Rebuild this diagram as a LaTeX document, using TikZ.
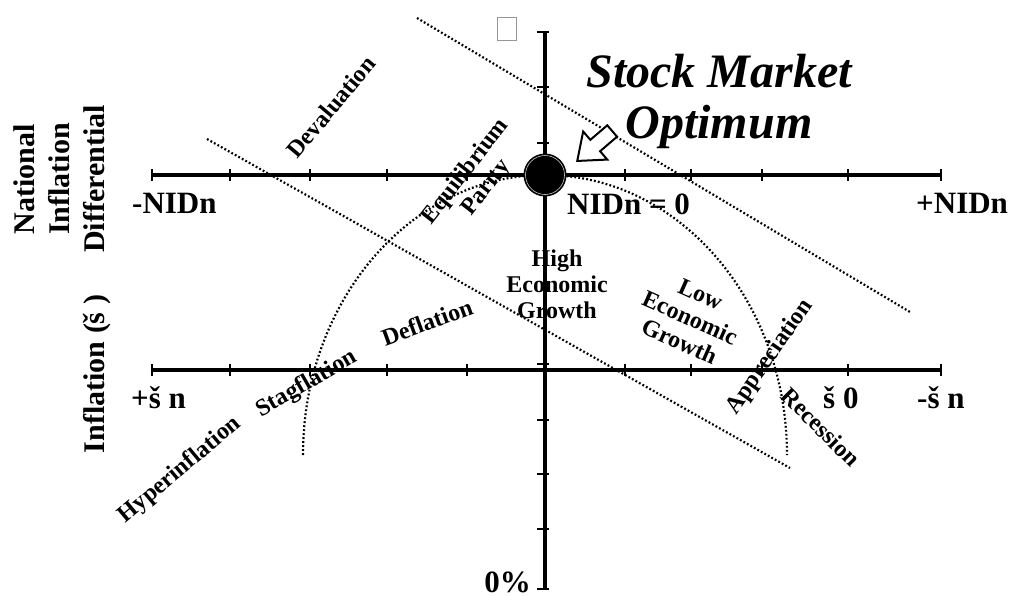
\documentclass[tikz,border=0pt]{standalone}
\usepackage{fontspec}
\setmainfont{Liberation Serif}
\usetikzlibrary{shapes.arrows}
\definecolor{glyphGray}{RGB}{150,150,150}
\definecolor{ringGray}{RGB}{200,200,200}
\tikzset{
  axisline/.style={line width=3.4pt},
  tickmark/.style={line width=2.6pt},
  dotline/.style={line width=2.2pt,dash pattern=on 1.8pt off 2.2pt},
  lbl/.style={font=\bfseries\fontsize{24}{26}\selectfont,align=center,inner sep=0pt},
  axislbl/.style={font=\bfseries\fontsize{31}{35}\selectfont,inner sep=0pt},
}

\begin{document}
\begin{tikzpicture}[x=1pt,y=-1pt]
\useasboundingbox (0,0) rectangle (1031,597);
\coordinate (nidW) at (152,175);
\coordinate (nidE) at (941,175);
\coordinate (infW) at (152,370);
\coordinate (infE) at (941,370);
\coordinate (vTop) at (545,32);
\coordinate (vBot) at (545,589);
\coordinate (parA1) at (417,18);
\coordinate (parA2) at (910,312);
\coordinate (parB1) at (207,139);
\coordinate (parB2) at (790,468);
\coordinate (arcW) at (303,455);

\draw[dotline] (parA1) -- (parA2);
\draw[dotline] (parB1) -- (parB2);
\draw[dotline] (arcW) arc[start angle=180,end angle=360,x radius=242,y radius=280];

\draw[axisline] (nidW) -- (nidE);
\draw[axisline] (infW) -- (infE);
\draw[axisline] (vTop) -- (vBot);
\foreach \tx in {152,230,310,387,467,625,691,762,848,941}{
  \draw[tickmark] (\tx,169) -- (\tx,181);
  \draw[tickmark] (\tx,364) -- (\tx,376);
}
\foreach \ty in {32,87,143,364,420,474,529,589}
  \draw[tickmark] (537,\ty) -- (549,\ty);

\node[circle,fill=black,minimum size=43pt,inner sep=0pt] (optimum) at (545,175) {};
\node[circle,draw=ringGray,line width=0.6pt,minimum size=39pt,inner sep=0pt] (optring) at (optimum) {};
\node[single arrow,draw,fill=white,line width=2pt,minimum height=46pt,inner sep=6.5pt,
      single arrow head extend=11pt,single arrow tip angle=76,rotate=220.6,anchor=tip] (optarrow) at (576,162) {};
\node[draw=glyphGray,line width=1.3pt,minimum width=19pt,minimum height=23pt,inner sep=0pt] (glyphbox) at (507,29) {};

\node[font=\bfseries\itshape\fontsize{48}{51}\selectfont,align=center,inner sep=0pt] (optlabel) at (719,101) {Stock Market\\Optimum};

\node[axislbl,anchor=base west] (nidneg) at (132,213) {-NIDn};
\node[axislbl,anchor=base west] (nidzero) at (567,214) {NIDn = 0};
\node[axislbl,anchor=base west] (nidpos) at (916,213) {+NIDn};
\node[axislbl,anchor=base west] (infpos) at (131,408) {+š n};
\node[axislbl,anchor=base west] (infzero) at (823,408) {š 0};
\node[axislbl,anchor=base west] (infneg) at (917,408) {-š n};
\node[axislbl,anchor=base east] (zeropct) at (531,592) {0\%};

\node[axislbl,font=\bfseries\fontsize{30}{35}\selectfont,rotate=90,align=center] (nidtitle) at (59,179) {National\\Inflation\\Differential};
\node[axislbl,font=\bfseries\fontsize{30}{35}\selectfont,rotate=90,anchor=base] (inftitle) at (104,374) {Inflation (š )};

\node[lbl,rotate=50] (deval) at (331,107) {Devaluation};
\node[lbl,rotate=52] (eqpar) at (476,180) {Equilibrium\\Parity};
\node[lbl] (highg) at (557,284) {High\\Economic\\Growth};
\node[lbl,rotate=-24] (lowg) at (690,318) {Low\\Economic\\Growth};
\node[lbl,rotate=20] (defl) at (427,322) {Deflation};
\node[lbl,rotate=30] (stagf) at (307,384) {Stagflation};
\node[lbl,rotate=40] (hyperf) at (180,470) {Hyperinflation};
\node[lbl,rotate=55] (apprec) at (770,357) {Appreciation};
\node[lbl,rotate=-45] (recess) at (821,427) {Recession};
\end{tikzpicture}
\end{document}
